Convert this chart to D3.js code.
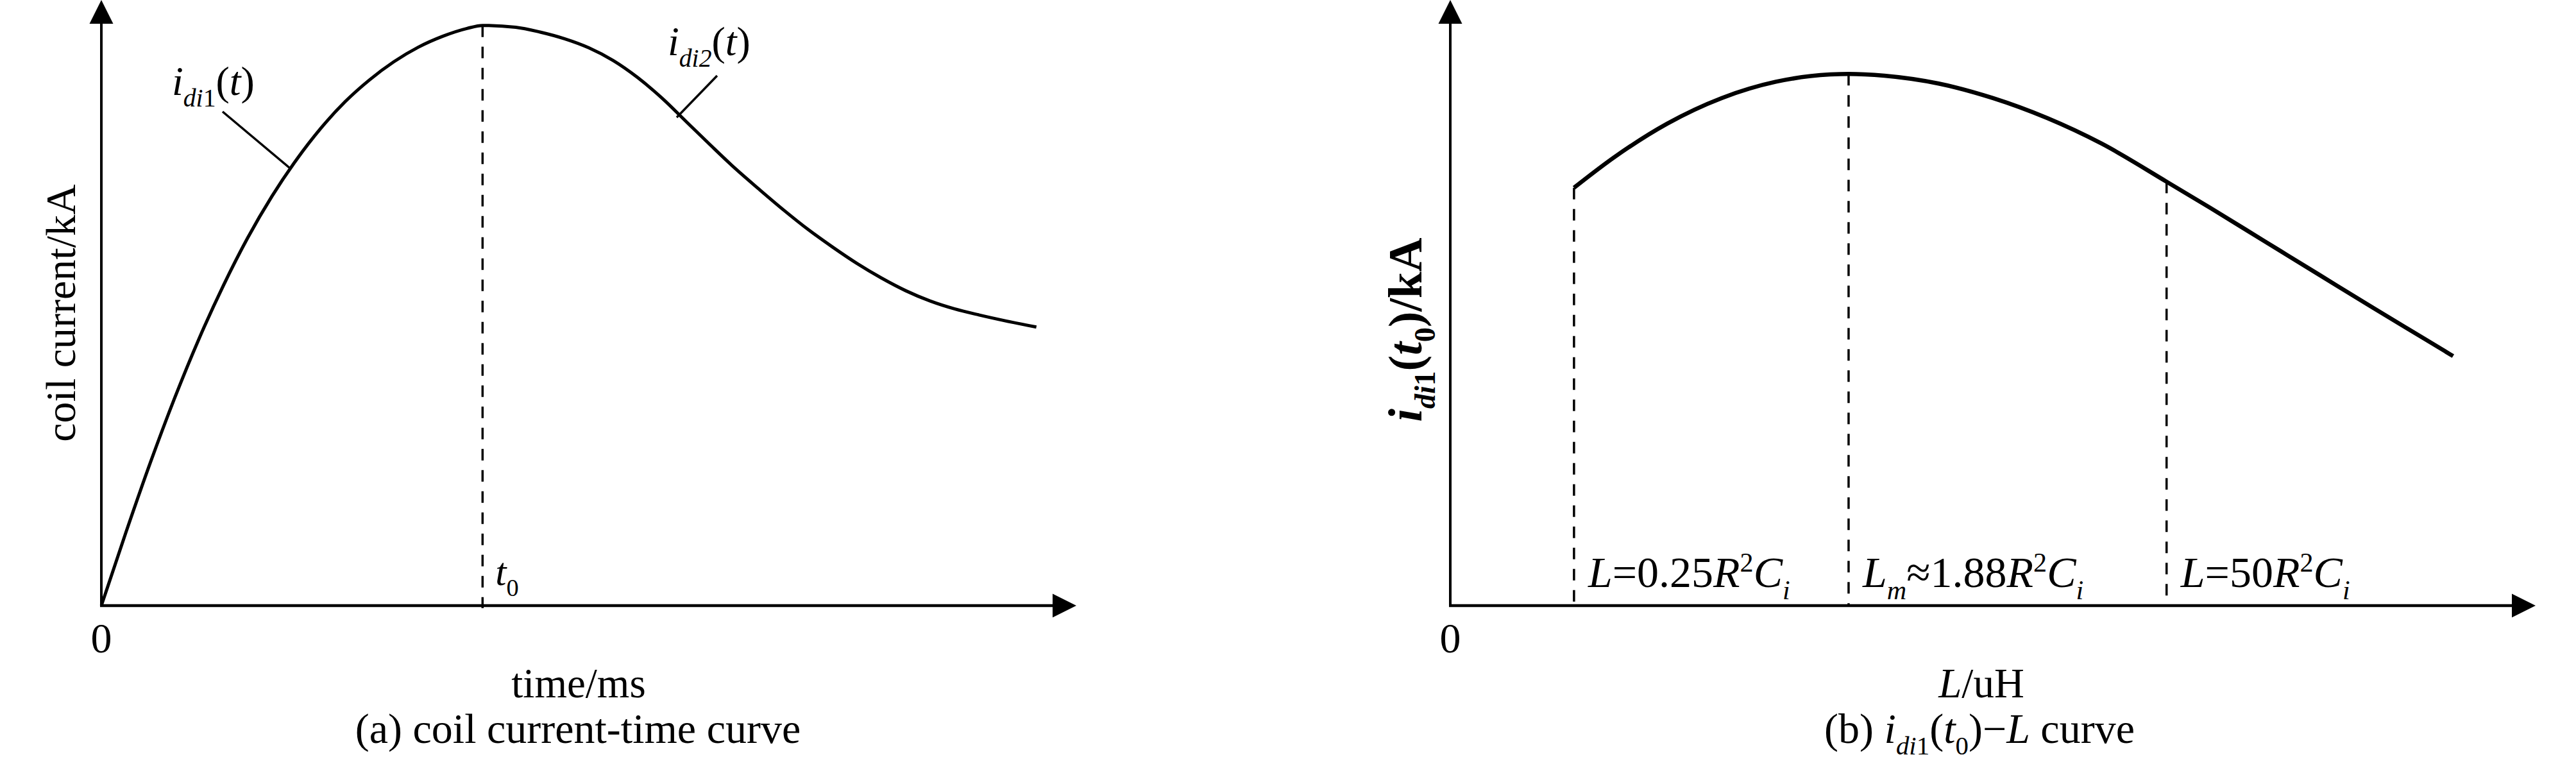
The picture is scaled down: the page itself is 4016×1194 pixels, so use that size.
<!DOCTYPE html>
<html lang="en">
<head>
<meta charset="UTF-8">
<title>coil current curves</title>
<script src="https://d3js.org/d3.v7.min.js"></script>
<style>
  body { margin: 0; background: #fff; }
  text { font-family: "Liberation Serif", "Times New Roman", serif; fill: #000; }
</style>
</head>
<body>
<svg id="chart" width="4016" height="1194"></svg>
<script>
// (a) coil current vs time (relative units, no ticks in the figure)
const timeVals    = [0, 0.25, 0.5, 0.75, 1.0, 1.25, 1.5, 1.75, 2.0, 2.25, 2.5, 2.75, 3.0, 3.25, 3.5, 3.75, 3.91,
                     4.25, 4.5, 4.75, 5.0, 5.25, 5.5, 5.75, 6.0, 6.25, 6.5, 6.75, 7.0, 7.25, 7.5, 7.75, 8.0, 8.25, 8.5, 8.75, 9.0, 9.25, 9.59];
const currentVals = [0, 1.20, 2.35, 3.42, 4.40, 5.28, 6.07, 6.76, 7.36, 7.88, 8.32, 8.68, 8.98, 9.22, 9.40, 9.53, 9.58,
                     9.55, 9.47, 9.36, 9.21, 9.00, 8.72, 8.38, 7.99, 7.60, 7.22, 6.87, 6.53, 6.21, 5.92, 5.65, 5.41, 5.20, 5.03, 4.90, 4.80, 4.71, 4.60];
const peakTime = 3.91;

// (b) i_di1(t0) vs L
const lVals    = [1.14, 1.5, 2.0, 2.5, 3.0, 3.5, 3.67, 4.0, 4.5, 5.0, 5.5, 6.0, 6.6, 7.0, 7.5, 8.0, 8.5, 9.0, 9.24];
const peakVals = [6.90, 7.39, 7.96, 8.38, 8.65, 8.77, 8.78, 8.75, 8.62, 8.38, 8.05, 7.63, 7.00, 6.57, 6.02, 5.47, 4.92, 4.38, 4.12];
const markL = [1.14, 3.67, 6.6];

// rich text segments: it = italic, sub / sup
const markLabels = [
  [{t: "L", it: 1}, {t: "=0.25"}, {t: "R", it: 1}, {t: "2", sup: 1}, {t: "C", it: 1}, {t: "i", it: 1, sub: 1}],
  [{t: "L", it: 1}, {t: "m", it: 1, sub: 1}, {t: "≈1.88"}, {t: "R", it: 1}, {t: "2", sup: 1}, {t: "C", it: 1}, {t: "i", it: 1, sub: 1}],
  [{t: "L", it: 1}, {t: "=50"}, {t: "R", it: 1}, {t: "2", sup: 1}, {t: "C", it: 1}, {t: "i", it: 1, sub: 1}]
];

const svg = d3.select("#chart");

function rich(sel, segs, size) {
  let shift = 0;
  segs.forEach(s => {
    const target = s.sub ? size * 0.28 : s.sup ? -size * 0.36 : 0;
    sel.append("tspan")
      .attr("dy", target - shift)
      .attr("font-size", (s.sub || s.sup) ? size * 0.62 : size)
      .attr("font-style", s.it ? "italic" : "normal")
      .text(s.t);
    shift = target;
  });
  return sel;
}

function axes(g, x, y) {
  const x0 = x(0), y0 = y(0), xt = x(10), yt = y(10), a = 37, h = 18.5;
  g.append("line").attr("x1", x0).attr("y1", y0).attr("x2", x0).attr("y2", yt + a)
    .attr("stroke", "#000").attr("stroke-width", 4);
  g.append("line").attr("x1", x0 - 2).attr("y1", y0).attr("x2", xt - a).attr("y2", y0)
    .attr("stroke", "#000").attr("stroke-width", 4.5);
  g.append("path").attr("d", `M${x0},${yt}L${x0 - h},${yt + a}L${x0 + h},${yt + a}Z`);
  g.append("path").attr("d", `M${xt},${y0}L${xt - a},${y0 - h}L${xt - a},${y0 + h}Z`);
  g.append("text").attr("x", x0).attr("y", y0 + 73).attr("text-anchor", "middle")
    .attr("font-size", 66).text("0");
}

// ---------- panel (a) ----------
const xA = d3.scaleLinear().domain([0, 10]).range([158, 1678]);
const yA = d3.scaleLinear().domain([0, 10]).range([944, 0]);
const gA = svg.append("g");
axes(gA, xA, yA);

const dataA = timeVals.map((t, i) => [t, currentVals[i]]);
gA.append("path").datum(dataA)
  .attr("fill", "none").attr("stroke", "#000").attr("stroke-width", 5)
  .attr("d", d3.line().x(d => xA(d[0])).y(d => yA(d[1])).curve(d3.curveMonotoneX));

const peakA = d3.max(currentVals);
gA.append("line").attr("x1", xA(peakTime)).attr("x2", xA(peakTime))
  .attr("y1", yA(peakA)).attr("y2", yA(0) + 4)
  .attr("stroke", "#000").attr("stroke-width", 3.5).attr("stroke-dasharray", "18,15");

rich(gA.append("text").attr("x", xA(peakTime) + 20).attr("y", 912), [{t: "t", it: 1}, {t: "0", sub: 1}], 62);

// leader labels
gA.append("line").attr("x1", 347).attr("y1", 174).attr("x2", 453).attr("y2", 263)
  .attr("stroke", "#000").attr("stroke-width", 3.5);
rich(gA.append("text").attr("x", 268).attr("y", 148),
  [{t: "i", it: 1}, {t: "di", it: 1, sub: 1}, {t: "1", sub: 1}, {t: "("}, {t: "t", it: 1}, {t: ")"}], 64);
gA.append("line").attr("x1", 1118).attr("y1", 118).attr("x2", 1055).attr("y2", 183)
  .attr("stroke", "#000").attr("stroke-width", 3.5);
rich(gA.append("text").attr("x", 1041).attr("y", 86),
  [{t: "i", it: 1}, {t: "di2", it: 1, sub: 1}, {t: "("}, {t: "t", it: 1}, {t: ")"}], 64);

gA.append("text").attr("transform", "translate(117,488) rotate(-90)")
  .attr("text-anchor", "middle").attr("font-size", 66)
  .text("coil current/kA");
gA.append("text").attr("x", 902).attr("y", 1087).attr("text-anchor", "middle")
  .attr("font-size", 65).text("time/ms");
gA.append("text").attr("x", 901).attr("y", 1158).attr("text-anchor", "middle")
  .attr("font-size", 66).text("(a) coil current-time curve");

// ---------- panel (b) ----------
const xB = d3.scaleLinear().domain([0, 10]).range([2261, 3953]);
const yB = d3.scaleLinear().domain([0, 10]).range([944, 0]);
const gB = svg.append("g");
axes(gB, xB, yB);

const dataB = lVals.map((l, i) => [l, peakVals[i]]);
const lineB = d3.line().x(d => xB(d[0])).y(d => yB(d[1])).curve(d3.curveMonotoneX);
gB.append("path").datum(dataB)
  .attr("fill", "none").attr("stroke", "#000").attr("stroke-width", 6.5)
  .attr("d", lineB);

markL.forEach((l, k) => {
  const v = peakVals[lVals.indexOf(l)];
  gB.append("line").attr("x1", xB(l)).attr("x2", xB(l))
    .attr("y1", yB(v)).attr("y2", yB(0))
    .attr("stroke", "#000").attr("stroke-width", 3.5).attr("stroke-dasharray", "18,15");
  rich(gB.append("text").attr("x", xB(l) + 22).attr("y", 915), markLabels[k], 68);
});

rich(gB.append("text").attr("transform", "translate(2216,514) rotate(-90)")
  .attr("text-anchor", "middle").attr("font-weight", "bold"),
  [{t: "i", it: 1}, {t: "di", it: 1, sub: 1}, {t: "1", sub: 1}, {t: "("}, {t: "t", it: 1}, {t: "0", sub: 1}, {t: ")/kA"}], 74);

rich(gB.append("text").attr("x", 3089).attr("y", 1087).attr("text-anchor", "middle"),
  [{t: "L", it: 1}, {t: "/uH"}], 65);
rich(gB.append("text").attr("x", 3086).attr("y", 1158).attr("text-anchor", "middle"),
  [{t: "(b) "}, {t: "i", it: 1}, {t: "di", it: 1, sub: 1}, {t: "1", sub: 1}, {t: "("}, {t: "t", it: 1}, {t: "0", sub: 1}, {t: ")−"}, {t: "L", it: 1}, {t: " curve"}], 66);
</script>
</body>
</html>
